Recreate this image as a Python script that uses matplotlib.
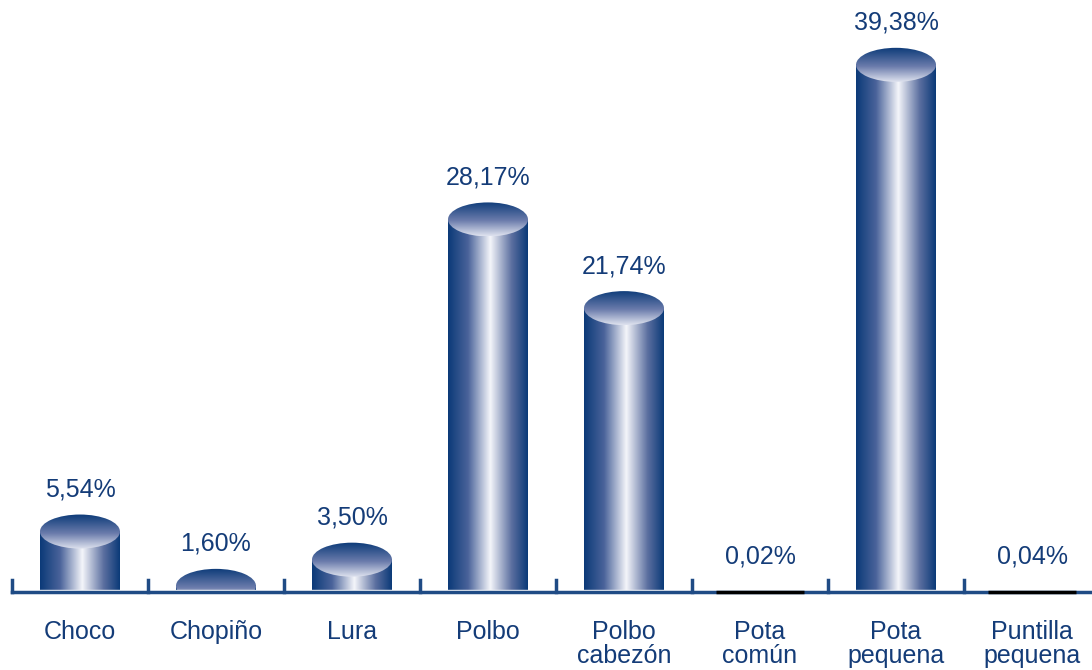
import numpy as np
import matplotlib.pyplot as plt
from matplotlib.colors import LinearSegmentedColormap
from matplotlib.patches import Ellipse, Rectangle

categories = ['Choco', 'Chopiño', 'Lura', 'Polbo', 'Polbo\ncabezón',
              'Pota\ncomún', 'Pota\npequena', 'Puntilla\npequena']
values = [5.54, 1.60, 3.50, 28.17, 21.74, 0.02, 39.38, 0.04]

navy = '#0b3a78'
text_col = '#143c78'
plt.rcParams['font.family'] = ['Liberation Sans', 'DejaVu Sans']

body_cmap = LinearSegmentedColormap.from_list(
    'body', [(0, navy), (0.25, '#4a639a'), (0.53, '#f4f5fa'), (0.8, '#5a6e9f'), (1, navy)])
top_cmap = LinearSegmentedColormap.from_list(
    'top', [(0, navy), (0.55, '#6a7bab'), (1, '#dfe3ef')])

fig = plt.figure(figsize=(10.92, 6.70), dpi=100)
ax = fig.add_axes([0, 0, 1, 1])
ax.set_xlim(-0.588, 7.441)
ax.set_ylim(-4.5, 44.08)
ax.axis('off')

px = 1 / 13.79           # data units per pixel (vertical)
floor = 1.3
axis_y = floor - 1.5 * px
width = 0.588
half_h = 17 * px

grad_h = np.linspace(0, 1, 256).reshape(1, -1)
grad_v = np.linspace(0, 1, 256).reshape(-1, 1)

for i, v in enumerate(values):
    left = i - width / 2
    if v > floor:
        im = ax.imshow(grad_h, cmap=body_cmap, aspect='auto', origin='lower',
                       extent=[left, left + width, floor, v], zorder=2)
        top = Ellipse((i, v), width, 2 * half_h, transform=ax.transData)
        im2 = ax.imshow(grad_v, cmap=top_cmap, aspect='auto', origin='upper',
                        extent=[left, left + width, v - half_h, v + half_h], zorder=2.5)
        im2.set_clip_path(top)
        lab_y = v + half_h + 13 * px
    else:
        ax.plot([i - 0.32, i + 0.32], [axis_y, axis_y], color='black', lw=2.5,
                zorder=6, solid_capstyle='butt')
        lab_y = floor + 22 * px
    ax.text(i, lab_y, f'{v:.2f}'.replace('.', ',') + '%', ha='center', va='bottom',
            fontsize=18, color=text_col, zorder=7)
    ax.text(i, floor - 30 * px, categories[i], ha='center', va='top',
            fontsize=18, color=text_col, linespacing=0.98, zorder=7)

# hide everything below the floor
ax.add_patch(Rectangle((-1, -5), 10, floor + 5, color='white', zorder=3))
ax.plot([-0.5, 7.5], [axis_y, axis_y], color='#1f4b85', lw=2.5, zorder=5)
for i in range(len(values)):
    ax.plot([i - 0.5, i - 0.5], [axis_y, axis_y + 12 * px], color='#1f4b85', lw=2.5, zorder=5)

ax.set_xlim(-0.588, 7.441)
ax.set_ylim(-4.5, 44.08)
fig.savefig('out.png', dpi=100)
